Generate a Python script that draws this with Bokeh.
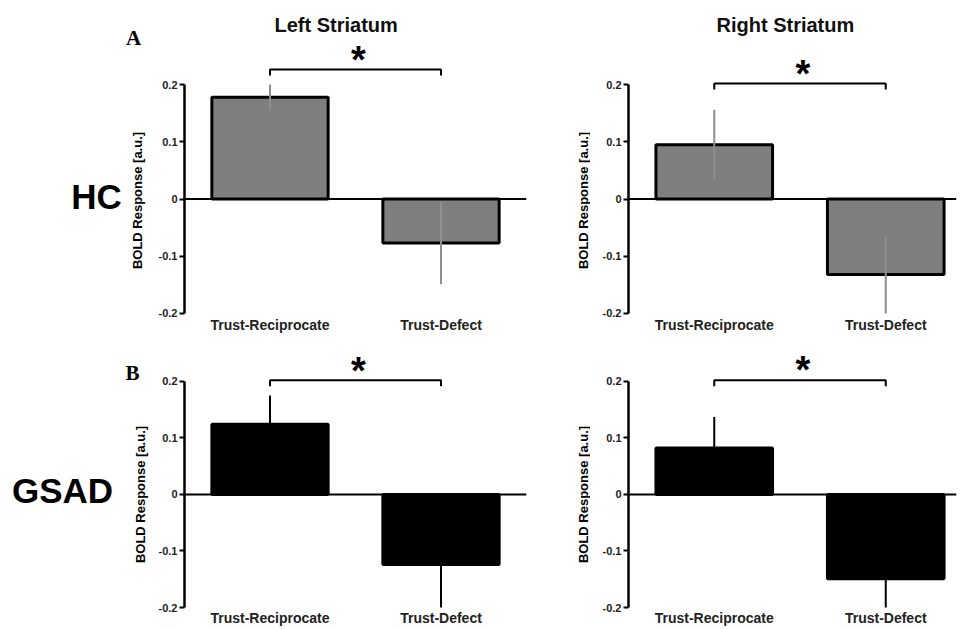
import numpy as np
from bokeh.plotting import figure
from bokeh.models import Range1d, FixedTicker, Span
from bokeh.layouts import column, row
from bokeh.embed import file_html
from bokeh.resources import INLINE
from bokeh.core.properties import value

# ---------------- data ----------------
categories = ["Trust-Reciprocate", "Trust-Defect"]
y_ticks = [-0.2, -0.1, 0.0, 0.1, 0.2]
y_tick_labels = ["-0.2", "-0.1", "0", "0.1", "0.2"]
regions = ["Left Striatum", "Right Striatum"]
groups = ["HC", "GSAD"]
panel_letters = ["A", "B"]
y_label = "BOLD Response [a.u.]"
sig_mark = "*"

hc_left_mean = [0.178, -0.077]
hc_left_err = [0.022, 0.072]
hc_right_mean = [0.095, -0.132]
hc_right_err = [0.061, 0.068]
gsad_left_mean = [0.124, -0.124]
gsad_left_err = [0.051, 0.076]
gsad_right_mean = [0.082, -0.149]
gsad_right_err = [0.055, 0.051]

# ---------------- styling / layout ----------------
SANS = "Liberation Sans"
SERIF = "Liberation Serif"
HC_FILL = "#7f7f7f"
HC_ERR = "#8e8e8e"
GSAD_FILL = "#000000"
GSAD_ERR = "#000000"
BAR_W = 0.68
PX_PER_X = 171.5
H_TOP, H_BOT = 336, 292
H_ALL = H_TOP + H_BOT


def make_panel(means, errs, fill, err_color, fig_box, frame_box, zero_px, py_scale,
               bracket_level, bracket_drop, star_level, title=None, title_offset=0):
    fl, ft, fw, fh = fig_box
    l, t, r, b = frame_box
    xmax = (r - l) / PX_PER_X
    ymax = (zero_px - t) / py_scale
    ymin = -(b - zero_px) / py_scale
    p = figure(width=fw, height=fh, x_range=Range1d(0, xmax), y_range=Range1d(ymin, ymax),
               output_backend="svg", toolbar_location=None, tools="",
               min_border_left=l - fl, min_border_right=fl + fw - r,
               min_border_top=t - ft, min_border_bottom=ft + fh - b)
    p.xgrid.visible = False
    p.ygrid.visible = False
    p.outline_line_color = None
    p.background_fill_color = "white"
    p.border_fill_color = "white"

    if title:
        p.title.text = title
        p.title.align = "left"
        p.title.offset = title_offset
        p.title.text_font = SANS
        p.title.text_font_style = "bold"
        p.title.text_font_size = "20px"
        p.title.text_color = "#111111"

    xs = [float(i) + 0.5 for i in range(len(categories))]
    p.vbar(x=xs, top=means, bottom=0, width=BAR_W, fill_color=fill,
           line_color="black", line_width=3)
    lo = [m - e for m, e in zip(means, errs)]
    hi = [m + e for m, e in zip(means, errs)]
    p.segment(x0=xs, y0=lo, x1=xs, y1=hi, line_color=err_color, line_width=2)

    p.add_layout(Span(location=0, dimension="width", line_color="black", line_width=2))

    # significance bracket
    p.line(x=[xs[0], xs[0], xs[1], xs[1]],
           y=[bracket_level - bracket_drop, bracket_level, bracket_level, bracket_level - bracket_drop],
           line_color="black", line_width=2)
    p.text(x=[(xs[0] + xs[1]) / 2], y=[star_level], text=[sig_mark],
           text_font=value(SANS), text_font_style="bold", text_font_size="38px",
           text_align="center", text_baseline="middle", x_offset=3, y_offset=5)

    # y axis
    ya = p.yaxis[0]
    ya.ticker = FixedTicker(ticks=y_ticks)
    ya.major_label_overrides = {k: v for k, v in zip(y_ticks, y_tick_labels)}
    ya.bounds = (y_ticks[0], y_ticks[-1])
    ya.axis_line_width = 2.5
    ya.axis_line_color = "black"
    ya.major_tick_line_width = 2
    ya.major_tick_out = 5
    ya.major_tick_in = 0
    ya.minor_tick_line_color = None
    ya.minor_tick_out = 0
    ya.major_label_text_font = SANS
    ya.major_label_text_font_style = "bold"
    ya.major_label_text_font_size = "11px"
    ya.major_label_text_color = "#222222"
    ya.major_label_standoff = 2

    # x axis (categories)
    xa = p.xaxis[0]
    xa.ticker = FixedTicker(ticks=xs)
    xa.major_label_overrides = {k: v for k, v in zip(xs, categories)}
    xa.axis_line_color = None
    xa.major_tick_line_color = None
    xa.minor_tick_line_color = None
    xa.major_tick_out = 0
    xa.minor_tick_out = 0
    xa.major_label_text_font = SANS
    xa.major_label_text_font_style = "bold"
    xa.major_label_text_font_size = "14px"
    xa.major_label_text_color = "#222222"
    xa.major_label_standoff = 0
    return p


def label_fig(page_left, width):
    f = figure(width=width, height=H_ALL, x_range=Range1d(page_left, page_left + width),
               y_range=Range1d(H_ALL, 0), output_backend="svg", toolbar_location=None,
               tools="", x_axis_location=None, y_axis_location=None,
               min_border_left=0, min_border_right=0, min_border_top=0, min_border_bottom=0)
    f.xgrid.visible = False
    f.ygrid.visible = False
    f.outline_line_color = None
    return f


def put_text(f, px, py, text, font, size, angle=0.0):
    f.text(x=[px], y=[py], text=[text], angle=angle, text_font=value(font),
           text_font_style="bold", text_font_size=size, text_align="center",
           text_baseline="middle", text_color="black")


tl = make_panel(hc_left_mean, hc_left_err, HC_FILL, HC_ERR,
                (150, 0, 380, H_TOP), (184, 40, 527, 316), 198.5, 572.0,
                0.2264, 0.0105, 0.2526, regions[0], 90)
tr = make_panel(hc_right_mean, hc_right_err, HC_FILL, HC_ERR,
                (590, 0, 368, H_TOP), (628, 40, 956, 316), 198.5, 572.0,
                0.2019, 0.0105, 0.2281, regions[1], 88)
bl = make_panel(gsad_left_mean, gsad_left_err, GSAD_FILL, GSAD_ERR,
                (150, H_TOP, 380, H_BOT), (183, 352, 526, 611), 495.0, 570.0,
                0.2018, 0.0105, 0.2263)
br = make_panel(gsad_right_mean, gsad_right_err, GSAD_FILL, GSAD_ERR,
                (590, H_TOP, 368, H_BOT), (628, 352, 956, 611), 495.0, 570.0,
                0.2018, 0.0105, 0.228)

lab_left = label_fig(0, 150)
put_text(lab_left, 96, 196, groups[0], SANS, "35px")
put_text(lab_left, 62, 490, groups[1], SANS, "35px")
put_text(lab_left, 133, 37, panel_letters[0], SERIF, "21px")
put_text(lab_left, 132, 372, panel_letters[1], SERIF, "21px")
put_text(lab_left, 137, 200, y_label, SANS, "13px", np.pi / 2)
put_text(lab_left, 140, 494, y_label, SANS, "13px", np.pi / 2)

lab_mid = label_fig(530, 60)
put_text(lab_mid, 583, 200, y_label, SANS, "13px", np.pi / 2)
put_text(lab_mid, 583, 494, y_label, SANS, "13px", np.pi / 2)

layout = row(lab_left, column(tl, bl), lab_mid, column(tr, br))
open("out.html", "w").write(file_html(layout, INLINE))
